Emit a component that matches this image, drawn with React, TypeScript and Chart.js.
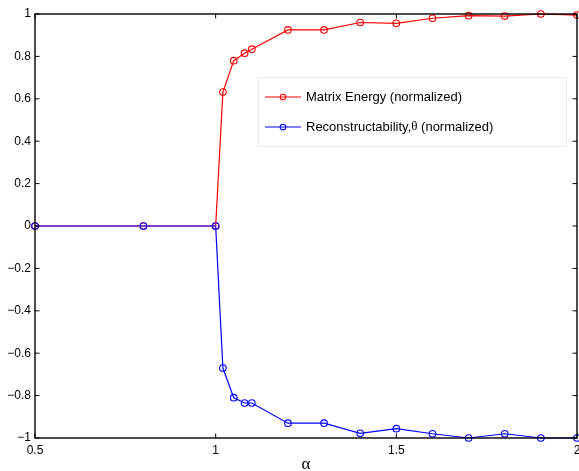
import React, { useEffect, useRef } from 'react';
import { Chart, registerables } from 'chart.js';

Chart.register(...registerables);

const alphaValues = [0.5, 0.8, 1.0, 1.02, 1.05, 1.08, 1.1, 1.2, 1.3, 1.4, 1.5, 1.6, 1.7, 1.8, 1.9, 2.0];
const matrixEnergy = [0, 0, 0, 0.632, 0.78, 0.815, 0.834, 0.925, 0.925, 0.96, 0.956, 0.98, 0.992, 0.99, 1.0, 0.995];
const reconstructability = [0, 0, 0, -0.67, -0.81, -0.835, -0.835, -0.93, -0.93, -0.978, -0.956, -0.98, -1.0, -0.98, -1.0, -1.0];
const xTickValues = [0.5, 1, 1.5, 2];
const yTickValues = [-1, -0.8, -0.6, -0.4, -0.2, 0, 0.2, 0.4, 0.6, 0.8, 1];
const seriesLabels = ['Matrix Energy (normalized)', 'Reconstructability,\u03b8 (normalized)'];
const seriesColors = ['#ff0000', '#0000ff'];
const xAxisTitle = '\u03b1';

const SANS = '"Liberation Sans", Arial, Helvetica, sans-serif';
const SERIF = '"Liberation Serif", "Times New Roman", serif';

const fmtTick = (v: number) => {
  const r = Math.round(v * 10) / 10;
  const s = String(Math.abs(r));
  return r < 0 ? '\u2212' + s : s;
};

const framePlugin = {
  id: 'matlabFrame',
  afterDatasetsDraw(chart: any) {
    const { ctx, chartArea } = chart;
    const { left, right, top, bottom } = chartArea;
    const xs = chart.scales.x;
    const ys = chart.scales.y;
    const tl = 4.5;
    ctx.save();
    ctx.strokeStyle = '#000';
    ctx.lineWidth = 1;
    ctx.beginPath();
    xTickValues.forEach((v) => {
      const px = xs.getPixelForValue(v);
      ctx.moveTo(px, bottom);
      ctx.lineTo(px, bottom - tl);
      ctx.moveTo(px, top);
      ctx.lineTo(px, top + tl);
    });
    yTickValues.forEach((v) => {
      const py = ys.getPixelForValue(v);
      ctx.moveTo(left, py);
      ctx.lineTo(left + tl, py);
      ctx.moveTo(right, py);
      ctx.lineTo(right - tl, py);
    });
    ctx.stroke();
    ctx.lineWidth = 1.4;
    ctx.strokeRect(left, top, right - left, bottom - top);
    ctx.restore();
  },
};

const legendPlugin = {
  id: 'boxLegend',
  afterDraw(chart: any) {
    const { ctx, chartArea } = chart;
    const bw = 308;
    const bh = 69;
    const bx = chartArea.right - 11 - bw;
    const by = chartArea.top + 63;
    ctx.save();
    ctx.fillStyle = '#ffffff';
    ctx.fillRect(bx, by, bw, bh);
    ctx.strokeStyle = '#ebebeb';
    ctx.lineWidth = 1;
    ctx.strokeRect(bx + 0.5, by + 0.5, bw, bh);
    chart.data.datasets.forEach((ds: any, i: number) => {
      const y = by + 20 + i * 30;
      ctx.strokeStyle = ds.borderColor;
      ctx.lineWidth = 1.1;
      ctx.beginPath();
      ctx.moveTo(bx + 7, y);
      ctx.lineTo(bx + 43, y);
      ctx.stroke();
      ctx.beginPath();
      ctx.arc(bx + 25, y, 2.8, 0, Math.PI * 2);
      ctx.stroke();
      ctx.fillStyle = '#000';
      ctx.textBaseline = 'middle';
      ctx.textAlign = 'left';
      const parts = String(ds.label).split('\u03b8');
      let x = bx + 48;
      parts.forEach((p: string, k: number) => {
        ctx.font = '13px ' + SANS;
        ctx.fillText(p, x, y);
        x += ctx.measureText(p).width;
        if (k < parts.length - 1) {
          ctx.font = '13px ' + SERIF;
          ctx.fillText('\u03b8', x, y);
          x += ctx.measureText('\u03b8').width;
        }
      });
    });
    ctx.restore();
  },
};

export default function App() {
  const ref = useRef<HTMLCanvasElement | null>(null);
  useEffect(() => {
    if (!ref.current) return;
    const mk = (vals: number[]) => alphaValues.map((x, i) => ({ x, y: vals[i] }));
    const base = {
      backgroundColor: 'rgba(0,0,0,0)',
      pointBackgroundColor: 'rgba(0,0,0,0)',
      borderWidth: 1.2,
      pointRadius: 3.3,
      pointBorderWidth: 1.1,
      tension: 0,
      clip: false as any,
    };
    const chart = new Chart(ref.current, {
      type: 'line',
      data: {
        datasets: [
          {
            ...base,
            label: seriesLabels[0],
            data: mk(matrixEnergy),
            borderColor: seriesColors[0],
            pointBorderColor: seriesColors[0],
            order: 1,
          },
          {
            ...base,
            label: seriesLabels[1],
            data: mk(reconstructability),
            borderColor: seriesColors[1],
            pointBorderColor: seriesColors[1],
            order: 0,
          },
        ],
      },
      options: {
        animation: false,
        responsive: false,
        layout: { autoPadding: false, padding: { top: 14, right: 2, left: 0, bottom: 0 } },
        plugins: { legend: { display: false }, tooltip: { enabled: false } },
        scales: {
          x: {
            type: 'linear',
            min: 0.5,
            max: 2,
            grid: { display: false, drawTicks: false },
            border: { display: false },
            afterBuildTicks: (s: any) => {
              s.ticks = xTickValues.map((v) => ({ value: v }));
            },
            ticks: {
              autoSkip: false,
              maxRotation: 0,
              padding: 5,
              color: '#000',
              font: { family: SANS, size: 12 },
              callback: (v: any) => fmtTick(Number(v)),
            },
            title: {
              display: true,
              text: xAxisTitle,
              color: '#000',
              font: { family: SERIF, size: 17, lineHeight: 0.8 },
              padding: { top: 0, bottom: 0 },
            },
            afterFit: (s: any) => {
              s.height = 33;
              s.paddingLeft = 0;
              s.paddingRight = 0;
            },
          },
          y: {
            type: 'linear',
            min: -1,
            max: 1,
            grid: { display: false, drawTicks: false },
            border: { display: false },
            afterBuildTicks: (s: any) => {
              s.ticks = yTickValues.map((v) => ({ value: v }));
            },
            ticks: {
              autoSkip: false,
              padding: 4,
              color: '#000',
              font: { family: SANS, size: 12 },
              callback: (v: any) => fmtTick(Number(v)),
            },
            afterFit: (s: any) => {
              s.width = 35;
              s.paddingTop = 0;
              s.paddingBottom = 0;
            },
          },
        },
      },
      plugins: [framePlugin, legendPlugin],
    } as any);
    return () => chart.destroy();
  }, []);
  return (
    <div style={{ position: 'fixed', left: 0, top: 0, width: 579, height: 471, background: '#fff' }}>
      <canvas ref={ref} width={579} height={471} style={{ display: 'block' }} />
    </div>
  );
}
